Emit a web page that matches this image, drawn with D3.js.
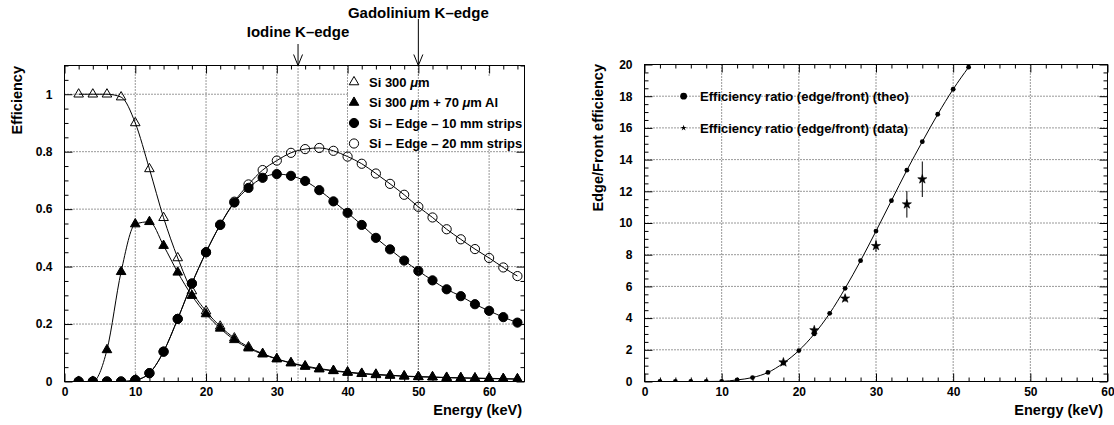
<!DOCTYPE html>
<html><head><meta charset="utf-8">
<script src="https://cdn.jsdelivr.net/npm/d3@7"></script>
<style>
body{margin:0;background:#fff}
svg{display:block}
text{font-family:"Liberation Sans",Arial,sans-serif;font-weight:bold;fill:#000}
</style>
</head><body>
<svg id="c" width="1114" height="425"></svg>
<script>
// ---------- data (left panel) ----------
const energyL = [2,4,6,8,10,12,14,16,18,20,22,24,26,28,30,32,34,36,38,40,42,44,46,48,50,52,54,56,58,60,62,64];
const si300   = [1.0,1.0,1.0,0.99,0.9,0.74,0.57,0.43,0.315,0.245,0.192,0.151,0.12,0.097,0.079,0.065,0.054,0.045,0.038,0.033,0.028,0.025,0.022,0.019,0.017,0.016,0.014,0.013,0.012,0.011,0.010,0.009];
const si300Al = [0,0,0.11,0.382,0.548,0.556,0.473,0.38,0.299,0.235,0.185,0.145,0.116,0.095,0.078,0.064,0.052,0.043,0.037,0.031,0.027,0.023,0.021,0.018,0.016,0.015,0.013,0.012,0.011,0.010,0.009,0.008];
const edge10  = [0,0,0,0,0.005,0.029,0.104,0.218,0.341,0.45,0.545,0.623,0.674,0.709,0.722,0.716,0.698,0.666,0.627,0.587,0.545,0.50,0.46,0.421,0.385,0.352,0.321,0.297,0.269,0.246,0.224,0.205];
const edge20  = [0,0,0,0,0.005,0.029,0.104,0.218,0.341,0.45,0.546,0.626,0.686,0.736,0.769,0.796,0.809,0.813,0.803,0.783,0.758,0.724,0.688,0.65,0.608,0.571,0.53,0.495,0.461,0.43,0.397,0.367];
const xTickLabelsL = ["0","10","20","30","40","50","60"];
const yTickLabelsL = ["0","0.2","0.4","0.6","0.8","1"];
const xTicksL = [0,10,20,30,40,50,60];
const yTicksL = [0,0.2,0.4,0.6,0.8,1];
const legendL = ["Si 300 \u03BCm","Si 300 \u03BCm + 70 \u03BCm Al","Si \u2013 Edge \u2013 10 mm strips","Si \u2013 Edge \u2013 20 mm strips"];
const edgeNames = ["Iodine K\u2013edge","Gadolinium K\u2013edge"];
const edgeEnergies = [33,50];

// ---------- data (right panel) ----------
const energyR  = [2,4,6,8,10,12,14,16,18,20,22,24,26,28,30,32,34,36,38,40,42];
const ratioTheo= [0,0,0,0,0.01,0.1,0.25,0.57,1.16,1.95,3.0,4.3,5.88,7.62,9.49,11.41,13.33,15.13,16.86,18.44,19.83];
const energyData = [18,22,26,30,34,36];
const ratioData  = [1.21,3.24,5.24,8.55,11.18,12.76];
const ratioErr   = [0.1,0.15,0.2,0.37,0.84,1.12];
const xTicksR = [0,10,20,30,40,50,60];
const yTicksR = [0,2,4,6,8,10,12,14,16,18,20];
const xTickLabelsR = ["0","10","20","30","40","50","60"];
const yTickLabelsR = ["0","2","4","6","8","10","12","14","16","18","20"];
const legendR = ["Efficiency ratio (edge/front) (theo)","Efficiency ratio (edge/front) (data)"];

const svg = d3.select("#c");
const FONT = '"Liberation Sans",Arial,sans-serif';

function panel(cfg){
  const {x, y, xMajor, yMajor, xMinorStep, yMinorStep, xLabels, yLabels, id} = cfg;
  const [X0,X1] = x.range(), [Y1,Y0] = y.range();
  const g = svg.append("g");
  // grid
  g.append("g").selectAll("line").data(xMajor.filter(v=>v>x.domain()[0] && v<x.domain()[1])).join("line")
    .attr("x1",d=>x(d)).attr("x2",d=>x(d)).attr("y1",Y0).attr("y2",Y1)
    .attr("stroke","#333").attr("stroke-dasharray","1,2");
  g.append("g").selectAll("line").data(yMajor.filter(v=>v>y.domain()[0] && v<y.domain()[1])).join("line")
    .attr("y1",d=>y(d)).attr("y2",d=>y(d)).attr("x1",X0).attr("x2",X1)
    .attr("stroke","#333").attr("stroke-dasharray","1,2");
  // axes
  const xMinor = d3.range(x.domain()[0], x.domain()[1]+1e-9, xMinorStep).filter(v=>!xMajor.includes(v));
  const yMinor = d3.range(y.domain()[0], y.domain()[1]+1e-9, yMinorStep).map(v=>+v.toFixed(4)).filter(v=>!yMajor.some(m=>Math.abs(m-v)<1e-6));
  const styleAxis = s => { s.select(".domain").remove(); s.attr("font-family",FONT).attr("font-size",12).attr("font-weight","bold"); s.selectAll("text").attr("fill","#000"); s.selectAll("line").attr("stroke","#000"); };
  g.append("g").attr("transform",`translate(0,${Y1})`)
    .call(d3.axisBottom(x).tickValues(xMajor).tickSize(-8).tickPadding(6).tickFormat((d,i)=>xLabels[i])).call(styleAxis);
  g.append("g").attr("transform",`translate(0,${Y1})`)
    .call(d3.axisBottom(x).tickValues(xMinor).tickSize(-4).tickFormat("")).call(styleAxis);
  g.append("g").attr("transform",`translate(0,${Y0})`)
    .call(d3.axisTop(x).tickValues(xMajor).tickSize(-8).tickFormat("")).call(styleAxis);
  g.append("g").attr("transform",`translate(0,${Y0})`)
    .call(d3.axisTop(x).tickValues(xMinor).tickSize(-4).tickFormat("")).call(styleAxis);
  g.append("g").attr("transform",`translate(${X0},0)`)
    .call(d3.axisLeft(y).tickValues(yMajor).tickSize(-8).tickPadding(12).tickFormat((d,i)=>yLabels[i])).call(styleAxis);
  g.append("g").attr("transform",`translate(${X0},0)`)
    .call(d3.axisLeft(y).tickValues(yMinor).tickSize(-4).tickFormat("")).call(styleAxis);
  g.append("g").attr("transform",`translate(${X1},0)`)
    .call(d3.axisRight(y).tickValues(yMajor).tickSize(-8).tickFormat("")).call(styleAxis);
  g.append("g").attr("transform",`translate(${X1},0)`)
    .call(d3.axisRight(y).tickValues(yMinor).tickSize(-4).tickFormat("")).call(styleAxis);
  // clip
  svg.append("clipPath").attr("id",id).append("rect").attr("x",X0).attr("y",Y0).attr("width",X1-X0).attr("height",Y1-Y0);
  const data = svg.append("g").attr("clip-path",`url(#${id})`);
  const over = svg.append("g");
  // frame
  const frame = svg.append("rect").attr("x",X0).attr("y",Y0).attr("width",X1-X0).attr("height",Y1-Y0)
    .attr("fill","none").attr("stroke","#000");
  return {g, data, over, X0, X1, Y0, Y1};
}

// ---------------- LEFT PANEL ----------------
const xL = d3.scaleLinear([0,65],[64.5,524.5]);
const yL = d3.scaleLinear([0,1.1],[381.5,65.5]);
const PL = panel({x:xL,y:yL,xMajor:xTicksL,yMajor:yTicksL,xMinorStep:2,yMinorStep:0.05,xLabels:xTickLabelsL,yLabels:yTickLabelsL,id:"clipL"});

const lineL = vals => d3.line().x((d,i)=>xL(energyL[i])).y(d=>yL(d)).curve(d3.curveMonotoneX)(vals);
const seriesL = [
  {vals:si300,   sym:d3.symbolTriangle, size:40, fill:"none"},
  {vals:si300Al, sym:d3.symbolTriangle, size:40, fill:"#000"},
  {vals:edge20,  sym:d3.symbolCircle,   size:Math.PI*4.6*4.6, fill:"none"},
  {vals:edge10,  sym:d3.symbolCircle,   size:Math.PI*4.6*4.6, fill:"#000"}
];
seriesL.forEach(s=>{
  PL.data.append("path").attr("d",lineL(s.vals)).attr("fill","none").attr("stroke","#000").attr("stroke-width",1);
});
seriesL.forEach(s=>{
  PL.data.append("g").selectAll("path").data(s.vals).join("path")
    .attr("transform",(d,i)=>`translate(${xL(energyL[i])},${yL(d)})`)
    .attr("d",d3.symbol(s.sym,s.size)()).attr("fill",s.fill).attr("stroke","#000").attr("stroke-width",1);
});

// legend (white box)
const legSeriesOrder = [0,1,3,2];
const legRowY = [82,102.5,123,143.5];
PL.over.append("rect").attr("x",348).attr("y",76).attr("width",176).attr("height",71).attr("fill","#fff");
legendL.forEach((t,i)=>{
  const s = seriesL[legSeriesOrder[i]];
  PL.over.append("path").attr("transform",`translate(354,${legRowY[i]})`)
    .attr("d",d3.symbol(s.sym,s.size)()).attr("fill",s.fill).attr("stroke","#000");
  const tx = PL.over.append("text").attr("x",369).attr("y",legRowY[i]).attr("dy","0.36em").attr("font-size",13);
  // italic mu
  t.split(/(\u03BC)/).forEach(part=>{
    if(!part) return;
    const ts = tx.append("tspan").text(part);
    if(part==="\u03BC") ts.attr("font-style","italic");
  });
});

// K-edge markers
const edgeTextY = [37,17.5];
const edgeArrowTop = [44,19];
edgeEnergies.forEach((e,i)=>{
  const xx = xL(e);
  PL.over.append("line").attr("x1",xx).attr("x2",xx).attr("y1",PL.Y0).attr("y2",PL.Y1)
    .attr("stroke","#333").attr("stroke-dasharray","1,2");
  svg.append("line").attr("x1",xx).attr("x2",xx).attr("y1",edgeArrowTop[i]).attr("y2",PL.Y0).attr("stroke","#000");
  svg.append("path").attr("d",`M${xx-4.5},${PL.Y0-11}L${xx},${PL.Y0}L${xx+4.5},${PL.Y0-11}`).attr("fill","none").attr("stroke","#000");
  svg.append("text").attr("x",xx).attr("y",edgeTextY[i]).attr("text-anchor","middle").attr("font-size",15).text(edgeNames[i]);
});

// axis titles
svg.append("text").attr("x",522).attr("y",415).attr("text-anchor","end").attr("font-size",14.5).text("Energy (keV)");
svg.append("text").attr("transform","translate(22,66) rotate(-90)").attr("text-anchor","end").attr("font-size",14.5).text("Efficiency");

// ---------------- RIGHT PANEL ----------------
const xR = d3.scaleLinear([0,60],[644.5,1107.5]);
const yR = d3.scaleLinear([0,20],[381.5,64.5]);
const PR = panel({x:xR,y:yR,xMajor:xTicksR,yMajor:yTicksR,xMinorStep:2,yMinorStep:0.5,xLabels:xTickLabelsR,yLabels:yTickLabelsR,id:"clipR"});

PR.data.append("path")
  .attr("d",d3.line().x((d,i)=>xR(energyR[i])).y(d=>yR(d)).curve(d3.curveMonotoneX)(ratioTheo))
  .attr("fill","none").attr("stroke","#000");
PR.data.append("g").selectAll("circle").data(ratioTheo).join("circle")
  .attr("cx",(d,i)=>xR(energyR[i])).attr("cy",d=>yR(d)).attr("r",2.4).attr("fill","#000");
// error bars
PR.data.append("g").selectAll("line").data(ratioData).join("line")
  .attr("x1",(d,i)=>xR(energyData[i])).attr("x2",(d,i)=>xR(energyData[i]))
  .attr("y1",(d,i)=>yR(d-ratioErr[i])).attr("y2",(d,i)=>yR(d+ratioErr[i]))
  .attr("stroke","#000");
const starSym = d3.symbol(d3.symbolStar, 4.8*4.8/0.8908130915292852)();
PR.data.append("g").selectAll("path").data(ratioData).join("path")
  .attr("transform",(d,i)=>`translate(${xR(energyData[i])},${yR(d)})`)
  .attr("d",starSym).attr("fill","#000").attr("stroke","#000").attr("stroke-width",0.6);

// legend
const legRY = [18,16];
PR.over.append("circle").attr("cx",xR(5.07)).attr("cy",yR(legRY[0])).attr("r",3.4).attr("fill","#000");
PR.over.append("path").attr("transform",`translate(${xR(5.07)},${yR(legRY[1])})`)
  .attr("d",d3.symbol(d3.symbolStar, 3.2*3.2/0.8908130915292852)()).attr("fill","#000");
legendR.forEach((t,i)=>{
  PR.over.append("text").attr("x",xR(7.2)).attr("y",yR(legRY[i])).attr("dy","0.36em").attr("font-size",13).text(t);
});

svg.append("text").attr("x",1103).attr("y",415).attr("text-anchor","end").attr("font-size",14.5).text("Energy (keV)");
svg.append("text").attr("transform","translate(603,64) rotate(-90)").attr("text-anchor","end").attr("font-size",14.5).text("Edge/Front efficiency");
</script>
</body></html>
